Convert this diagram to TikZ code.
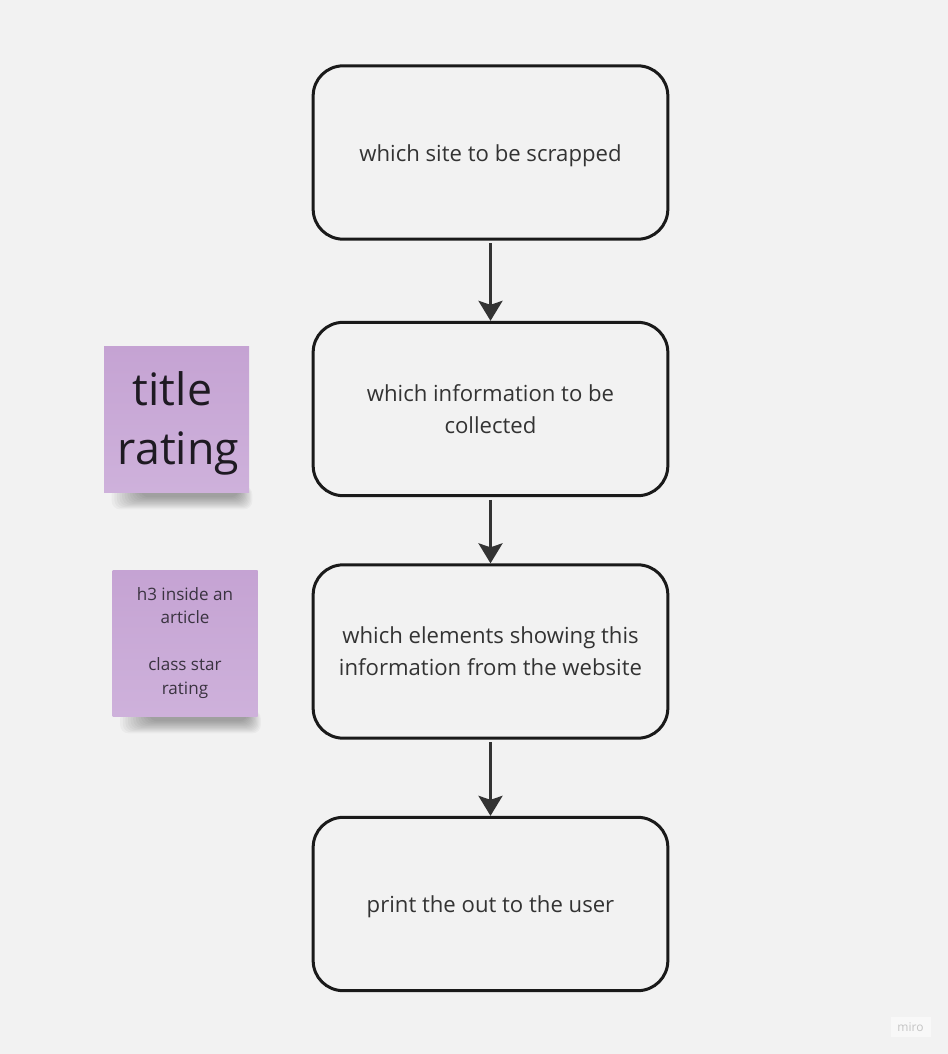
\documentclass[tikz,border=0pt]{standalone}
\usepackage{fontspec}
\setmainfont{Open Sans}
\usetikzlibrary{arrows.meta,calc}
\definecolor{bg}{HTML}{F2F2F2}
\definecolor{boxline}{HTML}{1A1A1A}
\definecolor{arrowc}{HTML}{333333}
\definecolor{txt}{HTML}{333333}
\definecolor{stickytop}{HTML}{C5A3D3}
\definecolor{stickybot}{HTML}{CEB1DB}
\definecolor{stickytxt}{HTML}{1E1A22}
\definecolor{stickytxtb}{HTML}{3A3340}
\definecolor{mirotxt}{HTML}{C4C4C4}
\pgfdeclarelayer{bgl}
\pgfdeclarelayer{shadowl}
\pgfsetlayers{bgl,shadowl,main}
\newcommand{\lowline}[2]{\raisebox{-#1}[0pt][0pt]{#2}}
\tikzset{
  stepbox/.style={draw=boxline, fill=bg, line width=2.25pt, rounded corners=22.5pt,
    minimum width=266pt, minimum height=130pt, align=center, text=txt,
    font=\fontsize{16.6pt}{24pt}\selectfont, inner sep=0pt},
  sticky/.style={top color=stickytop, bottom color=stickybot, draw=none,
    minimum width=108.75pt, minimum height=109.5pt, align=center, inner sep=0pt},
  shadowpiece/.style={fill=black, opacity=0.032, rounded corners=6pt},
  flow/.style={draw=arrowc, line width=2.25pt, -{Stealth[length=15pt,width=18pt,inset=3pt]},
    shorten <=2pt}
}
\begin{document}
\begin{tikzpicture}[x=0.75pt,y=-0.75pt]
\begin{pgfonlayer}{bgl}
\fill[bg] (0,0) rectangle (948,1054);
\end{pgfonlayer}
\useasboundingbox (0,0) rectangle (948,1054);

\node[stepbox] (b1) at (490.5,152.5) {\lowline{6.4pt}{which site to be scrapped}};
\node[stepbox] (b2) at (490.5,409) {which information to be\\collected};
\node[stepbox] (b3) at (490.5,651.5) {which elements showing this\\information from the website};
\node[stepbox] (b4) at (490.5,904) {\lowline{6.4pt}{print the out to the user}};

\draw[flow] (b1.south) -- (b2.north);
\draw[flow] (b2.south) -- (b3.north);
\draw[flow] (b3.south) -- (b4.north);

\node[sticky, text=stickytxt, font=\fontsize{33.5pt}{44pt}\selectfont] (s1) at (176.5,419)
  {\hspace*{-6pt}\lowline{12pt}{title}\\\hspace*{3pt}\lowline{12pt}{rating}};
\node[sticky, text=stickytxtb, font=\fontsize{12.8pt}{17.6pt}\selectfont] (s2) at (185,643)
  {h3 inside an\\article\\[17.6pt]class star\\rating};

\begin{pgfonlayer}{shadowl}
\foreach \n in {s1,s2}{
  \foreach \i in {0,...,11}{
    \fill[shadowpiece] ($(\n.south west)+(8+2.6*\i,-6)$) rectangle ($(\n.south east)+(3-1.2*\i,17-1.1*\i)$);
  }
}
\end{pgfonlayer}

\node[fill=white, fill opacity=0.5, text opacity=1, text=mirotxt, minimum width=30pt, minimum height=15pt,
  inner sep=0pt, font=\fontsize{9pt}{10pt}\selectfont] (miro) at (910.5,1027) {miro};
\end{tikzpicture}
\end{document}
